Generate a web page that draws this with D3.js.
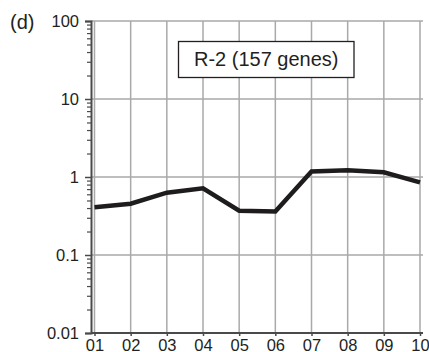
<!DOCTYPE html>
<html>
<head>
<meta charset="utf-8">
<script src="https://cdn.jsdelivr.net/npm/d3@7"></script>
<style>
  html, body { margin: 0; padding: 0; background: #fff; }
  svg { display: block; font-family: "Liberation Sans", Arial, Helvetica, sans-serif; }
</style>
</head>
<body>
<svg id="chart" width="429" height="352"></svg>
<script>
// Expression profile of cluster R-2 across ten samples (log scale)
const categories = ["01", "02", "03", "04", "05", "06", "07", "08", "09", "10"];
const values = [0.41, 0.455, 0.63, 0.715, 0.37, 0.362, 1.18, 1.22, 1.15, 0.855];
const yTickValues = [0.01, 0.1, 1, 10, 100];
const yTickLabels = ["0.01", "0.1", "1", "10", "100"];
const panelLabel = "(d)";
const boxLabel = "R-2 (157 genes)";

const svg = d3.select("#chart");
const axisX = 91, plotRight = 423;
const plotTop = 21, plotBottom = 333;

const x = d3.scalePoint().domain(categories).range([94.5, 420]);
const y = d3.scaleLog().domain([0.01, 100]).range([plotBottom, plotTop]);

const textColor = "#231f20";
const gridColor = "#a9a9a9";

// gridlines
const grid = svg.append("g");
grid.selectAll("line.h").data(yTickValues.filter(v => v > 0.01)).join("line")
  .attr("x1", axisX).attr("x2", plotRight)
  .attr("y1", d => y(d)).attr("y2", d => y(d))
  .attr("stroke", gridColor).attr("stroke-width", 1.5);
grid.selectAll("line.v").data(categories).join("line")
  .attr("x1", d => x(d)).attr("x2", d => x(d))
  .attr("y1", plotTop).attr("y2", plotBottom)
  .attr("stroke", gridColor).attr("stroke-width", 1.5);

// y axis with major and minor ticks
const minorTicks = [];
for (let e = -2; e < 2; e++) for (let m = 2; m <= 9; m++) minorTicks.push(m * Math.pow(10, e));

const yAxisMajor = d3.axisLeft(y).tickValues(yTickValues)
  .tickFormat((d, i) => yTickLabels[i]).tickSize(6).tickPadding(6);
const gy = svg.append("g").attr("transform", `translate(${axisX},0)`).call(yAxisMajor);
gy.select(".domain").attr("stroke", "#4a4a4a").attr("stroke-width", 2);
gy.selectAll(".tick line").attr("stroke", "#4a4a4a").attr("stroke-width", 1.5);
gy.selectAll(".tick text").attr("font-size", 16.5).attr("fill", textColor)
  .attr("font-family", "Liberation Sans, Arial, sans-serif");

const yAxisMinor = d3.axisLeft(y).tickValues(minorTicks).tickFormat("").tickSize(4);
const gym = svg.append("g").attr("transform", `translate(${axisX},0)`).call(yAxisMinor);
gym.select(".domain").remove();
gym.selectAll(".tick line").attr("stroke", "#4a4a4a").attr("stroke-width", 1.2);

// x axis; labels sit just above the lower edge
const xAxis = d3.axisBottom(x).tickSize(3).tickPadding(3);
const gx = svg.append("g").attr("transform", `translate(0,${plotBottom})`).call(xAxis);
gx.select(".domain").attr("d", `M${axisX},0H${plotRight}`).attr("stroke", "#4a4a4a").attr("stroke-width", 2);
gx.selectAll(".tick line").attr("stroke", "#4a4a4a").attr("stroke-width", 1.5);
gx.selectAll(".tick text").attr("font-size", 16.5).attr("fill", textColor)
  .attr("font-family", "Liberation Sans, Arial, sans-serif");

// data line
const line = d3.line().x((d, i) => x(categories[i])).y(d => y(d));
svg.append("path").datum(values)
  .attr("d", line)
  .attr("fill", "none")
  .attr("stroke", "#1f1c1d")
  .attr("stroke-width", 4.5)
  .attr("stroke-linejoin", "miter");

// label box
const box = svg.append("g");
box.append("rect").attr("x", 178.5).attr("y", 41.5).attr("width", 175.5).attr("height", 36)
  .attr("fill", "#fff").attr("stroke", textColor).attr("stroke-width", 1.3);
box.append("text").attr("x", 266.25).attr("y", 66).attr("text-anchor", "middle")
  .attr("font-size", 20).attr("fill", textColor).text(boxLabel);

// panel letter
svg.append("text").attr("x", 10).attr("y", 29).attr("font-size", 20)
  .attr("fill", textColor).text(panelLabel);
</script>
</body>
</html>
